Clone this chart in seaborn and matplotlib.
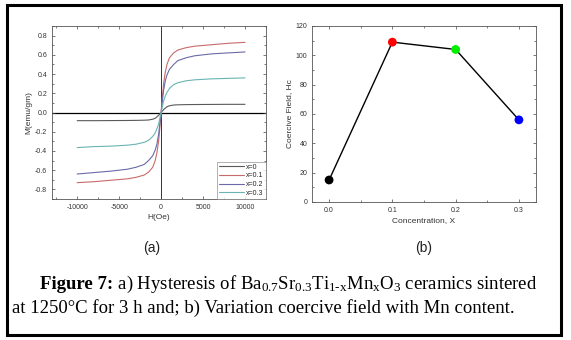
import matplotlib
matplotlib.use("Agg")
import matplotlib.pyplot as plt
from matplotlib.patches import Rectangle
from matplotlib.ticker import MultipleLocator
import numpy as np
import pandas as pd
import seaborn as sns

sns.set_theme(style="ticks")
plt.rcParams['font.family'] = ['Liberation Sans', 'DejaVu Sans']
plt.rcParams['axes.unicode_minus'] = False
plt.rcParams['mathtext.fontset'] = 'custom'
plt.rcParams['mathtext.rm'] = 'Liberation Serif'
plt.rcParams['mathtext.it'] = 'Liberation Serif:italic'
plt.rcParams['mathtext.bf'] = 'Liberation Serif:bold'

# panel (a): magnetisation curves
H = [-10000, -8000, -6000, -4000, -3000, -2000, -1500, -1000, -700, -500, -300, -150,
     0, 150, 300, 500, 700, 1000, 1500, 2000, 3000, 4000, 6000, 8000, 10000]
M_x0 = [-0.085, -0.085, -0.084, -0.083, -0.082, -0.080, -0.078, -0.070, -0.060, -0.045, -0.030, -0.015,
        0.0, 0.015, 0.030, 0.045, 0.060, 0.070, 0.078, 0.080, 0.082, 0.083, 0.084, 0.085, 0.085]
M_x01 = [-0.73, -0.72, -0.705, -0.69, -0.675, -0.65, -0.62, -0.57, -0.50, -0.42, -0.30, -0.16,
         0.0, 0.16, 0.30, 0.42, 0.50, 0.57, 0.62, 0.65, 0.675, 0.69, 0.705, 0.72, 0.73]
M_x02 = [-0.64, -0.625, -0.61, -0.59, -0.57, -0.54, -0.50, -0.45, -0.39, -0.33, -0.23, -0.12,
         0.0, 0.12, 0.23, 0.33, 0.39, 0.45, 0.50, 0.54, 0.57, 0.59, 0.61, 0.62, 0.63]
M_x03 = [-0.365, -0.355, -0.35, -0.34, -0.33, -0.31, -0.29, -0.25, -0.21, -0.17, -0.12, -0.06,
         0.0, 0.06, 0.12, 0.17, 0.21, 0.25, 0.29, 0.31, 0.33, 0.34, 0.35, 0.355, 0.36]
labels_a = ['x=0', 'x=0.1', 'x=0.2', 'x=0.3']
colors_a = ['#5a5a5a', '#c86a6a', '#6a6aa8', '#6ab4b4']

# panel (b): coercive field vs Mn content
conc = [0.0, 0.1, 0.2, 0.3]
hc = [15, 109, 104, 56]
colors_b = ['#000000', '#ff0000', '#00ee00', '#0000ff']

df_a = pd.DataFrame({
    'H': H * 4,
    'M': M_x0 + M_x01 + M_x02 + M_x03,
    'x': sum([[lab] * len(H) for lab in labels_a], []),
})
df_b = pd.DataFrame({'conc': conc, 'hc': hc, 'lab': [str(c) for c in conc]})

fig = plt.figure(figsize=(5.71, 3.40), dpi=100)
fig.patch.set_facecolor('white')

tick_kw = dict(labelsize=5, colors='#444444', labelcolor='#333333', direction='in',
               top=True, right=True, length=2.5, width=0.5)

# ---- (a)
ax1 = fig.add_axes([52 / 571, 141 / 340, 214 / 571, 173 / 340])
sns.lineplot(data=df_a, x='H', y='M', hue='x', palette=colors_a, sort=False,
             linewidth=0.8, ax=ax1)
ax1.axhline(0, color='black', lw=0.9, zorder=0)
ax1.axvline(0, color='#333333', lw=0.7, zorder=0)
ax1.set_xlim(-13000, 12500)
ax1.set_ylim(-0.9, 0.9)
ax1.set_xticks([-10000, -5000, 0, 5000, 10000])
ax1.set_yticks(np.round(np.arange(-0.8, 0.81, 0.2), 1))
ax1.xaxis.set_minor_locator(MultipleLocator(2500))
ax1.yaxis.set_minor_locator(MultipleLocator(0.1))
ax1.tick_params(which='both', **tick_kw)
ax1.tick_params(which='minor', length=1.5)
ax1.set_xlabel('H(Oe)', fontsize=6, labelpad=2, color='#333333')
ax1.set_ylabel('M(emu/gm)', fontsize=6, labelpad=2, color='#333333')
leg = ax1.legend(loc='lower right', fontsize=5, handlelength=3.5, frameon=True,
                 fancybox=False, borderaxespad=0, borderpad=0.3, labelspacing=0.25,
                 handletextpad=0.4)
leg.get_frame().set_edgecolor('#777777')
leg.get_frame().set_linewidth(0.5)
for s in ax1.spines.values():
    s.set_color('#555555')
    s.set_linewidth(0.6)

# ---- (b)
ax2 = fig.add_axes([312 / 571, 138 / 340, 224 / 571, 176 / 340])
sns.lineplot(data=df_b, x='conc', y='hc', color='black', linewidth=1.0, ax=ax2)
sns.scatterplot(data=df_b, x='conc', y='hc', hue='lab', palette=colors_b, s=40,
                edgecolor='none', legend=False, zorder=3, ax=ax2)
ax2.set_xlim(-0.027, 0.327)
ax2.set_ylim(0, 120)
ax2.set_xticks([0.0, 0.1, 0.2, 0.3])
ax2.set_xticklabels(['0.0', '0.1', '0.2', '0.3'])
ax2.set_yticks(range(0, 121, 20))
ax2.xaxis.set_minor_locator(MultipleLocator(0.05))
ax2.yaxis.set_minor_locator(MultipleLocator(10))
ax2.tick_params(which='both', **tick_kw)
ax2.tick_params(which='minor', length=1.5)
ax2.set_xlabel('Concentration, X', fontsize=6, labelpad=2, color='#333333')
ax2.set_ylabel('Coercive Field, Hc', fontsize=6, labelpad=2, color='#333333')
for s in ax2.spines.values():
    s.set_color('#555555')
    s.set_linewidth(0.6)

# panel letters
fig.text(152 / 571, 1 - 248 / 340, '(a)', fontsize=10, ha='center', va='center', color='#222222')
fig.text(424 / 571, 1 - 248 / 340, '(b)', fontsize=10, ha='center', va='center', color='#222222')

# caption
cap_bold = 'Figure 7:'
cap1 = (r' a) Hysteresis of Ba$_{\mathrm{0.7}}$Sr$_{\mathrm{0.3}}$'
        r'Ti$_{\text{1-x}}$Mn$_{\mathrm{x}}$O$_{\mathrm{3}}$ ceramics sintered')
cap2 = 'at 1250°C for 3 h and; b) Variation coercive field with Mn content.'
t_b = fig.text(40 / 571, 1 - 289 / 340, cap_bold, fontsize=13.5, family='Liberation Serif',
               weight='bold', ha='left', va='baseline', color='black')
fig.canvas.draw()
bb = t_b.get_window_extent()
fig.text(bb.x1 / fig.bbox.width, 1 - 289 / 340, cap1, fontsize=13.5, family='Liberation Serif',
         ha='left', va='baseline', color='black')
fig.text(12 / 571, 1 - 313 / 340, cap2, fontsize=13.5, family='Liberation Serif',
         ha='left', va='baseline', color='black')

# outer frame
fig.add_artist(Rectangle((7 / 571, 5 / 340), 554 / 571, 330 / 340, transform=fig.transFigure,
                         fill=False, edgecolor='black', linewidth=2.2))

plt.savefig('out.png', dpi=100)
